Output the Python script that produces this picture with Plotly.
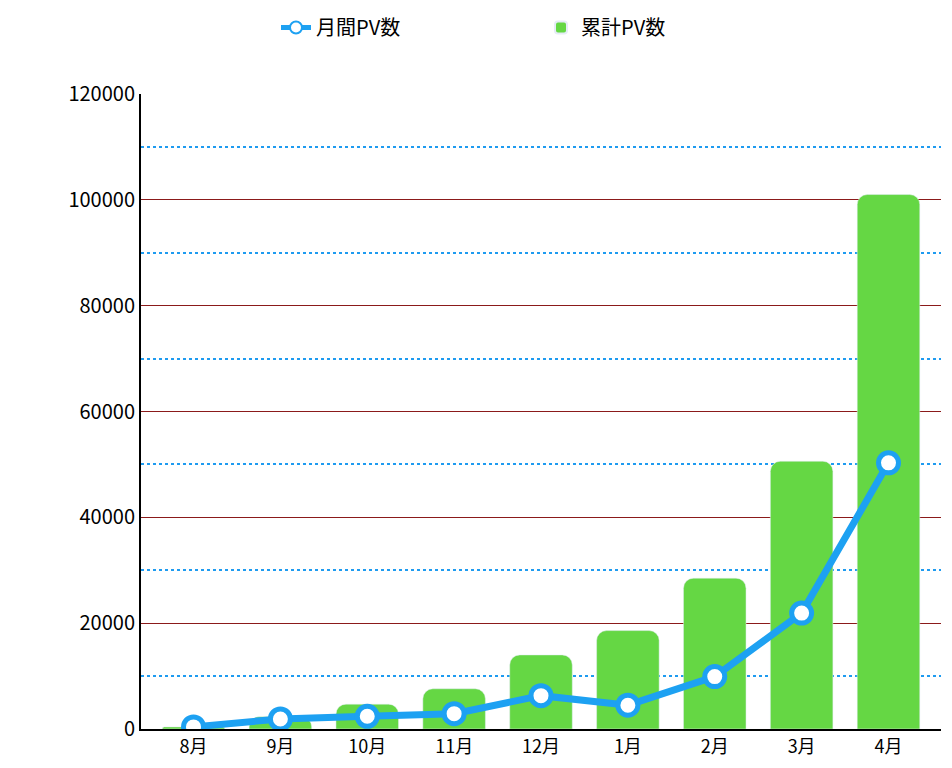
import plotly.graph_objects as go

months = ["8月", "9月", "10月", "11月", "12月", "1月", "2月", "3月", "4月"]
cumulative_pv = [400, 2300, 4700, 7600, 14000, 18600, 28500, 50600, 101000]
monthly_pv = [400, 1900, 2400, 2900, 6300, 4500, 9900, 21900, 50300]

fig = go.Figure()

fig.add_trace(go.Bar(
    x=months, y=cumulative_pv, name="累計PV数",
    marker=dict(color="#65D744", cornerradius=10), width=0.72,
))
fig.add_trace(go.Scatter(
    x=months, y=monthly_pv, name="月間PV数", mode="lines+markers",
    line=dict(color="#1DA1F2", width=7),
    marker=dict(size=20, color="white", line=dict(color="#1DA1F2", width=5)),
))

fig.update_layout(
    width=952, height=768,
    plot_bgcolor="white", paper_bgcolor="white",
    font=dict(family="Noto Sans CJK JP", size=18, color="black"),
    margin=dict(l=133, r=19, t=86, b=47, autoexpand=False),
    legend=dict(orientation="h", x=0.5, xanchor="center", yref="container", y=1.0, yanchor="top",
                font=dict(size=20), traceorder="reversed", entrywidth=220, itemsizing="constant"),
)
fig.update_yaxes(
    range=[0, 120000], dtick=20000, tickformat="d", showgrid=True, gridcolor="#8B1A1A", gridwidth=1,
    minor=dict(dtick=10000, showgrid=True, gridcolor="#1E9BF0", griddash="dot", gridwidth=2),
    showline=True, linecolor="black", linewidth=2, ticks="", tickfont=dict(size=20),
    zeroline=False, automargin=False,
)
fig.update_xaxes(showline=True, linecolor="black", linewidth=2, tickfont=dict(size=18), automargin=False)

fig.write_html("out.html")
